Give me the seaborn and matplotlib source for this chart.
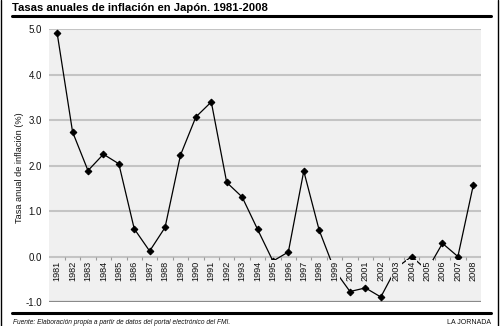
import matplotlib
matplotlib.use("Agg")
import matplotlib.pyplot as plt
import seaborn as sns
import pandas as pd
from matplotlib.lines import Line2D

years = [str(y) for y in range(1981, 2009)]
inflation = [4.91, 2.74, 1.89, 2.25, 2.04, 0.61, 0.12, 0.64, 2.23, 3.07,
             3.40, 1.63, 1.31, 0.60, -0.10, 0.10, 1.88, 0.58, -0.30, -0.77,
             -0.69, -0.89, -0.25, 0.00, -0.30, 0.29, 0.00, 1.57]
yticks = [-1.0, 0.0, 1.0, 2.0, 3.0, 4.0, 5.0]

title = "Tasas anuales de inflación en Japón. 1981-2008"
ylabel = "Tasa anual de inflación (%)"
source = "Fuente: Elaboración propia a partir de datos del portal electrónico del FMI."
brand = "LA JORNADA"

sns.set_style("white")
plt.rcParams['font.family'] = ['Liberation Sans', 'DejaVu Sans']

df = pd.DataFrame({"idx": range(len(years)), "year": years, "val": inflation})

W, H = 500, 326
fig = plt.figure(figsize=(W / 100, H / 100), dpi=100)
ax = fig.add_axes([49 / W, 1 - 302 / H, (481 - 49) / W, (302 - 29.2) / H])
ax.set_facecolor('#f0f0f0')

for t in yticks:
    if t == -1.0:
        ax.axhline(t, color='#8a8a8a', lw=1.6, zorder=1)
    else:
        ax.axhline(t, color='#c4c4c4', lw=1.5, zorder=1)

ax.vlines([i + 0.5 for i in range(len(years) - 1)], -0.07, 0.0,
          color='#9a9a9a', lw=0.8, zorder=1)

sns.lineplot(data=df, x="idx", y="val", ax=ax, color='black', lw=0.9,
             marker='D', markersize=3.4, markeredgecolor='black', zorder=3)

for i, y in enumerate(years):
    ax.text(i, -0.09, y, rotation=90, ha='center', va='top', fontsize=6.6,
            color='#111111', zorder=4,
            bbox=dict(boxstyle='square,pad=0.12', fc='#f0f0f0', ec='none'))

ax.set_xlim(-0.53, 27.5)
ax.set_ylim(-1.0, 5.0)
ax.set_yticks(yticks)
ax.set_yticklabels([f"{t:.1f}" for t in yticks], fontsize=7.0, color='#111111')
ax.set_xticks([])
ax.tick_params(axis='y', length=0, pad=5)
ax.set_xlabel("")
ax.set_ylabel("")
for s in ax.spines.values():
    s.set_visible(False)

fig.text(20 / W, 1 - 168 / H, ylabel, rotation=90, ha='center', va='center',
         fontsize=6.6, color='#111111')
fig.text(12 / W, 1 - 8 / H, title, ha='left', va='center', fontsize=8.1,
         fontweight='bold', color='black')
fig.text(13 / W, 1 - 322 / H, source, ha='left', va='center', fontsize=4.8,
         style='italic', color='#111111')
fig.text(491 / W, 1 - 322 / H, brand, ha='right', va='center', fontsize=5.0,
         color='#111111')

fig.add_artist(Line2D([12 / W, 491 / W], [1 - 15.5 / H, 1 - 15.5 / H],
                      transform=fig.transFigure, color='black', lw=2.2))
fig.add_artist(Line2D([12 / W, 491 / W], [1 - 313 / H, 1 - 313 / H],
                      transform=fig.transFigure, color='black', lw=2.2))
fig.add_artist(Line2D([0.6 / W, 0.6 / W], [0, 1],
                      transform=fig.transFigure, color='black', lw=1.0))
fig.add_artist(Line2D([497.5 / W, 497.5 / W], [0, 1],
                      transform=fig.transFigure, color='black', lw=1.0))

fig.savefig("out.png", dpi=100)
